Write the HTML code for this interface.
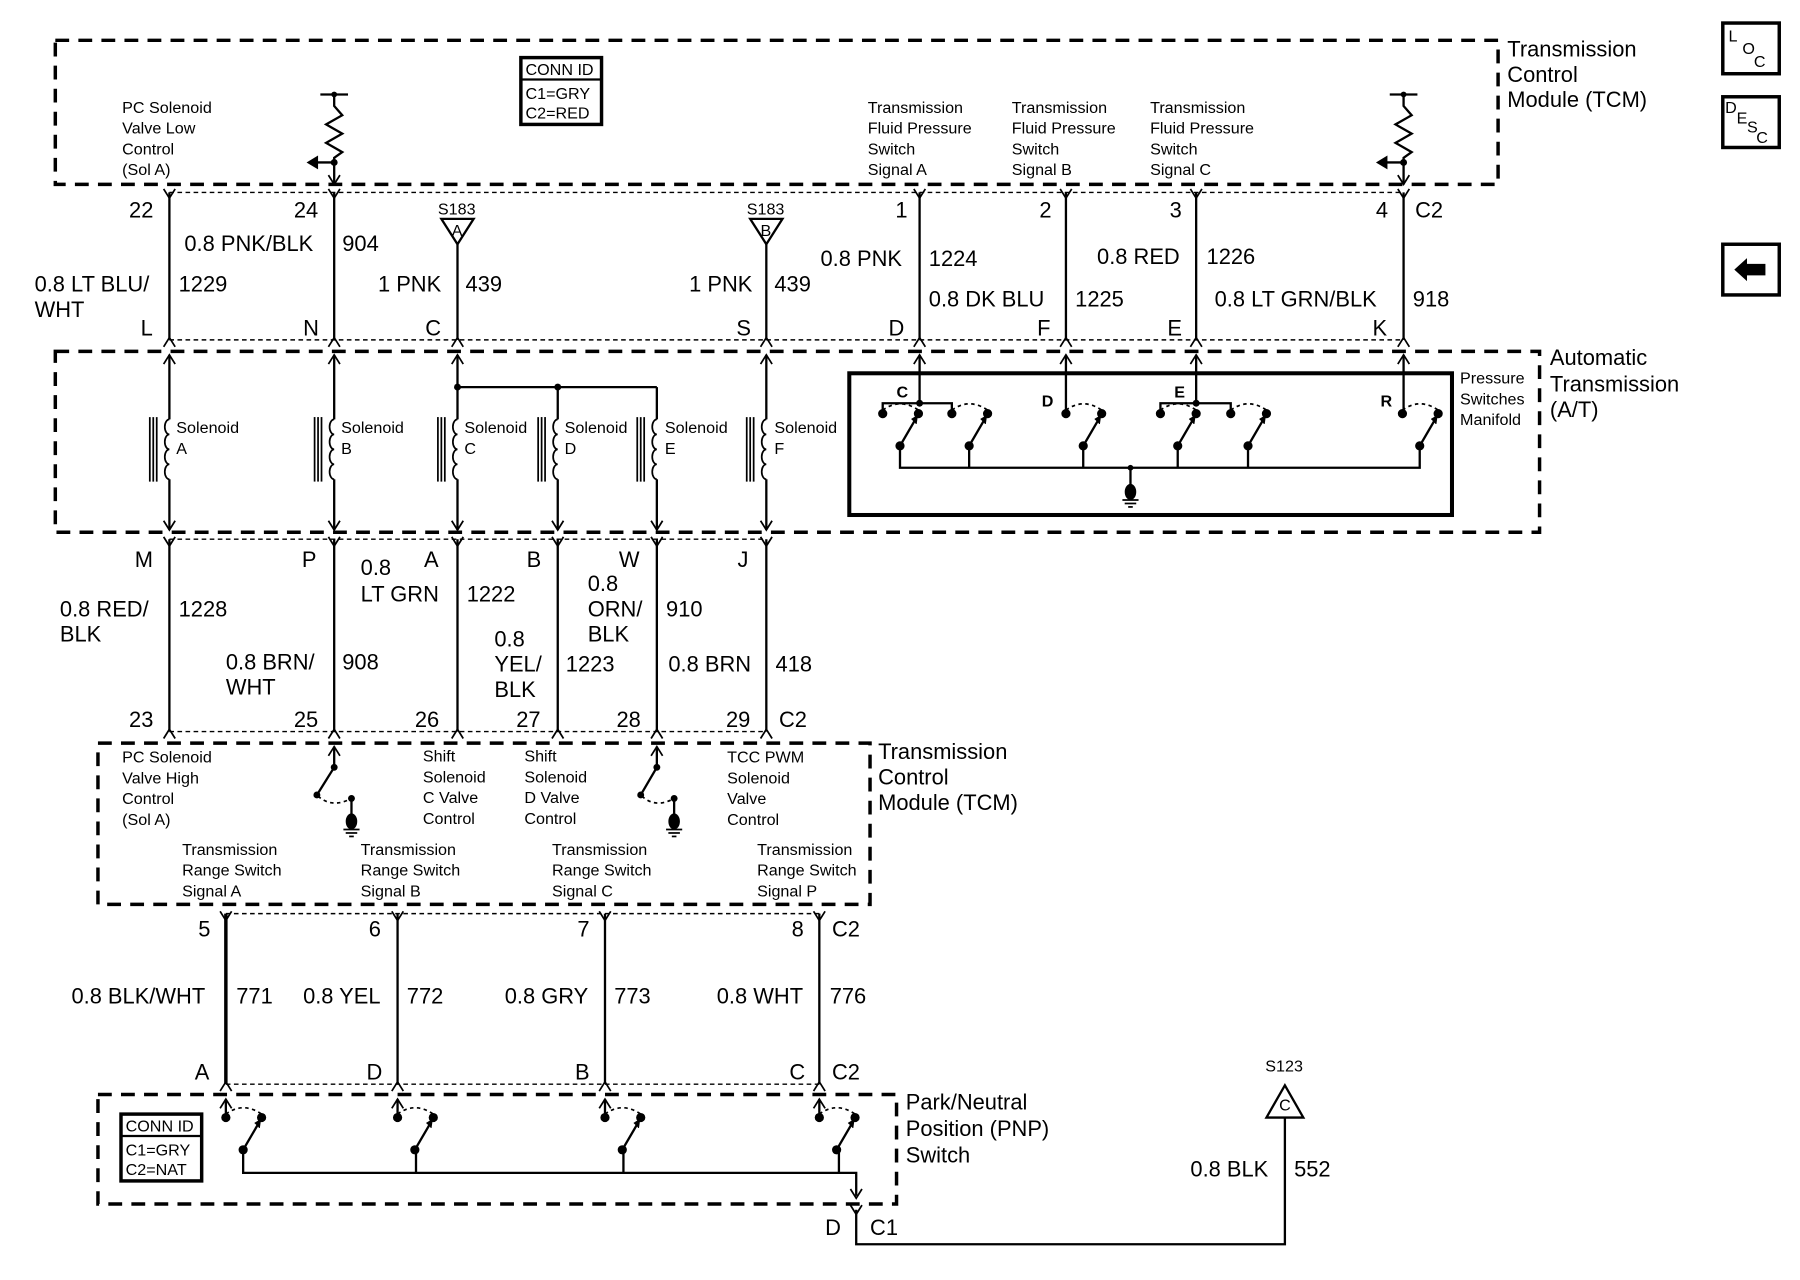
<!DOCTYPE html>
<html><head><meta charset="utf-8"><style>
html,body{margin:0;padding:0;background:#fff;}
svg{display:block;}
text{font-family:"Liberation Sans",sans-serif;fill:#000;}
.s{font-size:14px;}
.m{font-size:19px;}
.l{font-size:19px;}
</style></head><body>
<svg width="1800" height="1280" viewBox="0 0 1562 1111" preserveAspectRatio="none" xmlns="http://www.w3.org/2000/svg">
<defs>
<path id="fork" d="M-5,-6 L0,2 L5,-6" fill="none" stroke="#000" stroke-width="1.5"/>
<path id="chev" d="M-5,6 L0,-2 L5,6" fill="none" stroke="#000" stroke-width="1.5"/>
<path id="arrD" d="M-5,-8 L0,0 L5,-8" fill="none" stroke="#000" stroke-width="1.5"/>
<g id="gnd"><ellipse cx="0" cy="0" rx="5" ry="7" fill="#000"/><line x1="-7" y1="7" x2="7" y2="7" stroke="#000" stroke-width="1.5"/><line x1="-5" y1="10" x2="5" y2="10" stroke="#000" stroke-width="1.5"/><line x1="-2" y1="13" x2="2" y2="13" stroke="#000" stroke-width="1.5"/></g>
<g id="coil" fill="none" stroke="#000" stroke-width="1.5"><path d="M0,0 a4,6.5 0 0 0 0,13 a4,6.5 0 0 0 0,13 a4,6.5 0 0 0 0,13 a4,6.5 0 0 0 0,13"/><line x1="-17" y1="-2" x2="-17" y2="54"/><line x1="-14" y1="-2" x2="-14" y2="54"/><line x1="-11" y1="-2" x2="-11" y2="54"/></g>
<g id="sw" stroke="#000" stroke-width="2" fill="none"><circle cx="0" cy="0" r="3" fill="#000"/><circle cx="31" cy="0" r="3" fill="#000"/><path d="M0,-3 Q15,-14 31,-3" stroke-dasharray="3,3" stroke-width="1.5"/><circle cx="15" cy="28" r="3" fill="#000"/><line x1="15" y1="28" x2="29" y2="4"/><path d="M25,5 L30,2 L29,9" fill="#000" stroke-width="1"/></g>
</defs>

<g fill="none" stroke="#000" stroke-width="3" stroke-dasharray="12,8">
<rect x="48" y="35" width="1252" height="125"/>
<rect x="48" y="305" width="1288" height="157"/>
<rect x="85" y="645" width="670" height="140"/>
<rect x="85" y="950" width="693" height="95"/>
</g>
<g stroke="#000" stroke-width="1.2" stroke-dasharray="4,3">
<line x1="147" y1="167" x2="1218" y2="167"/><line x1="147" y1="295" x2="1218" y2="295"/>
<line x1="147" y1="468" x2="665" y2="468"/><line x1="147" y1="635" x2="665" y2="635"/>
<line x1="196" y1="793" x2="711" y2="793"/><line x1="196" y1="941" x2="711" y2="941"/>
</g>

<!-- top TCM -->
<rect x="452" y="50" width="70" height="58" fill="none" stroke="#000" stroke-width="3"/>
<line x1="452" y1="69" x2="522" y2="69" stroke="#000" stroke-width="2"/>
<text class="s" x="456" y="65">CONN ID</text><text class="s" x="456" y="86">C1=GRY</text><text class="s" x="456" y="103">C2=RED</text>
<text class="s" x="106" y="98">PC Solenoid</text><text class="s" x="106" y="116">Valve Low</text><text class="s" x="106" y="134">Control</text><text class="s" x="106" y="152">(Sol A)</text>
<text class="s" x="753" y="98">Transmission</text><text class="s" x="753" y="116">Fluid Pressure</text><text class="s" x="753" y="134">Switch</text><text class="s" x="753" y="152">Signal A</text>
<text class="s" x="878" y="98">Transmission</text><text class="s" x="878" y="116">Fluid Pressure</text><text class="s" x="878" y="134">Switch</text><text class="s" x="878" y="152">Signal B</text>
<text class="s" x="998" y="98">Transmission</text><text class="s" x="998" y="116">Fluid Pressure</text><text class="s" x="998" y="134">Switch</text><text class="s" x="998" y="152">Signal C</text>
<text class="l" x="1308" y="49">Transmission</text><text class="l" x="1308" y="71">Control</text><text class="l" x="1308" y="93">Module (TCM)</text>
<g stroke="#000" stroke-width="2" fill="none">
<path d="M278,82 H302 M290,82 V92 L297,100 L283,108 L297,116 L283,124 L297,132 L290,137 V160"/>
<path d="M1206,82 H1230 M1218,82 V92 L1225,100 L1211,108 L1225,116 L1211,124 L1225,132 L1218,137 V160"/>
<line x1="290" y1="141" x2="272" y2="141"/><line x1="1218" y1="141" x2="1200" y2="141"/>
</g>
<circle cx="290" cy="82" r="2.5"/><circle cx="290" cy="141" r="3"/><circle cx="1218" cy="82" r="2.5"/><circle cx="1218" cy="141" r="3"/>
<path d="M266,141 L276,135 L276,147 Z"/><path d="M1194,141 L1204,135 L1204,147 Z"/>
<use href="#arrD" x="290" y="160"/><use href="#arrD" x="1218" y="160"/>

<!-- LOC / DESC / back -->
<g fill="none" stroke="#000" stroke-width="3"><rect x="1495" y="20" width="49" height="44"/><rect x="1495" y="84" width="49" height="44"/><rect x="1495" y="212" width="49" height="44"/></g>
<text class="s" x="1500" y="36">L</text><text class="s" x="1512" y="47">O</text><text class="s" x="1522" y="58">C</text>
<text class="s" x="1497" y="98">D</text><text class="s" x="1507" y="107">E</text><text class="s" x="1516" y="115">S</text><text class="s" x="1524" y="124">C</text>
<path d="M1505,234 L1516,224 L1516,229 L1532,229 L1532,239 L1516,239 L1516,244 Z"/>

<!-- top harness -->
<g stroke="#000" stroke-width="2">
<line x1="147" y1="167" x2="147" y2="295"/><line x1="290" y1="167" x2="290" y2="295"/>
<line x1="397" y1="212" x2="397" y2="295"/><line x1="665" y1="212" x2="665" y2="295"/>
<line x1="798" y1="167" x2="798" y2="295"/><line x1="925" y1="167" x2="925" y2="295"/>
<line x1="1038" y1="167" x2="1038" y2="295"/><line x1="1218" y1="167" x2="1218" y2="295"/>
</g>
<use href="#fork" x="147" y="170"/><use href="#fork" x="290" y="170"/><use href="#fork" x="798" y="170"/><use href="#fork" x="925" y="170"/><use href="#fork" x="1038" y="170"/><use href="#fork" x="1218" y="170"/>
<use href="#chev" x="147" y="295"/><use href="#chev" x="290" y="295"/><use href="#chev" x="397" y="295"/><use href="#chev" x="665" y="295"/><use href="#chev" x="798" y="295"/><use href="#chev" x="925" y="295"/><use href="#chev" x="1038" y="295"/><use href="#chev" x="1218" y="295"/>
<g fill="none" stroke="#000" stroke-width="2"><path d="M383,190 H411 L397,212 Z"/><path d="M651,190 H679 L665,212 Z"/></g>
<text class="s" x="380" y="186">S183</text><text class="s" x="392" y="205">A</text>
<text class="s" x="648" y="186">S183</text><text class="s" x="660" y="205">B</text>
<text class="m" x="112" y="189">22</text><text class="m" x="255" y="189">24</text><text class="m" x="777" y="189">1</text><text class="m" x="902" y="189">2</text><text class="m" x="1015" y="189">3</text><text class="m" x="1194" y="189">4</text><text class="m" x="1228" y="189">C2</text>
<text class="m" x="160" y="218">0.8 PNK/BLK</text><text class="m" x="297" y="218">904</text>
<text class="m" x="30" y="253">0.8 LT BLU/</text><text class="m" x="30" y="275">WHT</text><text class="m" x="155" y="253">1229</text>
<text class="m" x="328" y="253">1 PNK</text><text class="m" x="404" y="253">439</text>
<text class="m" x="598" y="253">1 PNK</text><text class="m" x="672" y="253">439</text>
<text class="m" x="712" y="231">0.8 PNK</text><text class="m" x="806" y="231">1224</text>
<text class="m" x="806" y="266">0.8 DK BLU</text><text class="m" x="933" y="266">1225</text>
<text class="m" x="952" y="229">0.8 RED</text><text class="m" x="1047" y="229">1226</text>
<text class="m" x="1054" y="266">0.8 LT GRN/BLK</text><text class="m" x="1226" y="266">918</text>
<text class="m" x="122" y="291">L</text><text class="m" x="263" y="291">N</text><text class="m" x="369" y="291">C</text><text class="m" x="639" y="291">S</text><text class="m" x="771" y="291">D</text><text class="m" x="900" y="291">F</text><text class="m" x="1013" y="291">E</text><text class="m" x="1191" y="291">K</text>

<!-- A/T -->
<text class="l" x="1345" y="317">Automatic</text><text class="l" x="1345" y="340">Transmission</text><text class="l" x="1345" y="362">(A/T)</text>
<g stroke="#000" stroke-width="2" fill="none">
<line x1="147" y1="308" x2="147" y2="364"/><line x1="147" y1="416" x2="147" y2="460"/>
<line x1="290" y1="308" x2="290" y2="364"/><line x1="290" y1="416" x2="290" y2="460"/>
<line x1="397" y1="308" x2="397" y2="364"/><line x1="397" y1="416" x2="397" y2="460"/>
<line x1="484" y1="336" x2="484" y2="364"/><line x1="484" y1="416" x2="484" y2="460"/>
<line x1="570" y1="336" x2="570" y2="364"/><line x1="570" y1="416" x2="570" y2="460"/>
<line x1="665" y1="308" x2="665" y2="364"/><line x1="665" y1="416" x2="665" y2="460"/>
<line x1="397" y1="336" x2="570" y2="336"/>
</g>
<circle cx="397" cy="336" r="3"/><circle cx="484" cy="336" r="3"/>
<use href="#chev" x="147" y="310"/><use href="#chev" x="290" y="310"/><use href="#chev" x="397" y="310"/><use href="#chev" x="665" y="310"/><use href="#chev" x="798" y="310"/><use href="#chev" x="925" y="310"/><use href="#chev" x="1038" y="310"/><use href="#chev" x="1218" y="310"/>
<use href="#arrD" x="147" y="460"/><use href="#arrD" x="290" y="460"/><use href="#arrD" x="397" y="460"/><use href="#arrD" x="484" y="460"/><use href="#arrD" x="570" y="460"/><use href="#arrD" x="665" y="460"/>
<use href="#coil" x="147" y="364"/><use href="#coil" x="290" y="364"/><use href="#coil" x="397" y="364"/><use href="#coil" x="484" y="364"/><use href="#coil" x="570" y="364"/><use href="#coil" x="665" y="364"/>
<text class="s" x="153" y="376">Solenoid</text><text class="s" x="153" y="394">A</text>
<text class="s" x="296" y="376">Solenoid</text><text class="s" x="296" y="394">B</text>
<text class="s" x="403" y="376">Solenoid</text><text class="s" x="403" y="394">C</text>
<text class="s" x="490" y="376">Solenoid</text><text class="s" x="490" y="394">D</text>
<text class="s" x="577" y="376">Solenoid</text><text class="s" x="577" y="394">E</text>
<text class="s" x="672" y="376">Solenoid</text><text class="s" x="672" y="394">F</text>
<!-- manifold -->
<rect x="737" y="324" width="523" height="123" fill="none" stroke="#000" stroke-width="3.5"/>
<text class="s" x="1267" y="333">Pressure</text><text class="s" x="1267" y="351">Switches</text><text class="s" x="1267" y="369">Manifold</text>
<g stroke="#000" stroke-width="2" fill="none">
<line x1="798" y1="308" x2="798" y2="350"/><line x1="925" y1="308" x2="925" y2="359"/><line x1="1038" y1="308" x2="1038" y2="350"/><line x1="1218" y1="308" x2="1218" y2="359"/>
<path d="M766,359 V350 H826 V359"/><path d="M1007,359 V350 H1068 V359"/>
<path d="M781,387 V406 H1232 V387"/>
<line x1="841" y1="387" x2="841" y2="406"/><line x1="940" y1="387" x2="940" y2="406"/><line x1="1022" y1="387" x2="1022" y2="406"/><line x1="1083" y1="387" x2="1083" y2="406"/>
<line x1="981" y1="406" x2="981" y2="422"/>
</g>
<circle cx="798" cy="350" r="3"/><circle cx="1038" cy="350" r="3"/><circle cx="981" cy="406" r="2.5"/>
<use href="#gnd" x="981" y="427"/>
<use href="#sw" x="766" y="359"/><use href="#sw" x="826" y="359"/><use href="#sw" x="925" y="359"/><use href="#sw" x="1007" y="359"/><use href="#sw" x="1068" y="359"/><use href="#sw" x="1217" y="359"/>
<text class="s" x="778" y="345" font-weight="bold">C</text><text class="s" x="904" y="353" font-weight="bold">D</text><text class="s" x="1019" y="345" font-weight="bold">E</text><text class="s" x="1198" y="353" font-weight="bold">R</text>

<!-- middle harness -->
<g stroke="#000" stroke-width="2">
<line x1="147" y1="468" x2="147" y2="635"/><line x1="290" y1="468" x2="290" y2="635"/><line x1="397" y1="468" x2="397" y2="635"/><line x1="484" y1="468" x2="484" y2="635"/><line x1="570" y1="468" x2="570" y2="635"/><line x1="665" y1="468" x2="665" y2="635"/>
</g>
<use href="#fork" x="147" y="472"/><use href="#fork" x="290" y="472"/><use href="#fork" x="397" y="472"/><use href="#fork" x="484" y="472"/><use href="#fork" x="570" y="472"/><use href="#fork" x="665" y="472"/>
<use href="#chev" x="147" y="635"/><use href="#chev" x="290" y="635"/><use href="#chev" x="397" y="635"/><use href="#chev" x="484" y="635"/><use href="#chev" x="570" y="635"/><use href="#chev" x="665" y="635"/>
<text class="m" x="117" y="492">M</text><text class="m" x="262" y="492">P</text><text class="m" x="368" y="492">A</text><text class="m" x="457" y="492">B</text><text class="m" x="537" y="492">W</text><text class="m" x="640" y="492">J</text>
<text class="m" x="52" y="535">0.8 RED/</text><text class="m" x="52" y="557">BLK</text><text class="m" x="155" y="535">1228</text>
<text class="m" x="196" y="581">0.8 BRN/</text><text class="m" x="196" y="603">WHT</text><text class="m" x="297" y="581">908</text>
<text class="m" x="313" y="499">0.8</text><text class="m" x="313" y="522">LT GRN</text><text class="m" x="405" y="522">1222</text>
<text class="m" x="429" y="561">0.8</text><text class="m" x="429" y="583">YEL/</text><text class="m" x="429" y="605">BLK</text><text class="m" x="491" y="583">1223</text>
<text class="m" x="510" y="513">0.8</text><text class="m" x="510" y="535">ORN/</text><text class="m" x="510" y="557">BLK</text><text class="m" x="578" y="535">910</text>
<text class="m" x="580" y="583">0.8 BRN</text><text class="m" x="673" y="583">418</text>
<text class="m" x="112" y="631">23</text><text class="m" x="255" y="631">25</text><text class="m" x="360" y="631">26</text><text class="m" x="448" y="631">27</text><text class="m" x="535" y="631">28</text><text class="m" x="630" y="631">29</text><text class="m" x="676" y="631">C2</text>

<!-- lower TCM -->
<text class="l" x="762" y="659">Transmission</text><text class="l" x="762" y="681">Control</text><text class="l" x="762" y="703">Module (TCM)</text>
<text class="s" x="106" y="662">PC Solenoid</text><text class="s" x="106" y="680">Valve High</text><text class="s" x="106" y="698">Control</text><text class="s" x="106" y="716">(Sol A)</text>
<text class="s" x="367" y="661">Shift</text><text class="s" x="367" y="679">Solenoid</text><text class="s" x="367" y="697">C Valve</text><text class="s" x="367" y="715">Control</text>
<text class="s" x="455" y="661">Shift</text><text class="s" x="455" y="679">Solenoid</text><text class="s" x="455" y="697">D Valve</text><text class="s" x="455" y="715">Control</text>
<text class="s" x="631" y="662">TCC PWM</text><text class="s" x="631" y="680">Solenoid</text><text class="s" x="631" y="698">Valve</text><text class="s" x="631" y="716">Control</text>
<text class="s" x="158" y="742">Transmission</text><text class="s" x="158" y="760">Range Switch</text><text class="s" x="158" y="778">Signal A</text>
<text class="s" x="313" y="742">Transmission</text><text class="s" x="313" y="760">Range Switch</text><text class="s" x="313" y="778">Signal B</text>
<text class="s" x="479" y="742">Transmission</text><text class="s" x="479" y="760">Range Switch</text><text class="s" x="479" y="778">Signal C</text>
<text class="s" x="657" y="742">Transmission</text><text class="s" x="657" y="760">Range Switch</text><text class="s" x="657" y="778">Signal P</text>
<g stroke="#000" stroke-width="2" fill="none">
<line x1="290" y1="648" x2="290" y2="666"/><line x1="290" y1="666" x2="275" y2="690"/><path d="M276,691 Q288,702 305,693" stroke-dasharray="3,3" stroke-width="1.5"/><line x1="305" y1="693" x2="305" y2="708"/>
<line x1="570" y1="648" x2="570" y2="666"/><line x1="570" y1="666" x2="556" y2="690"/><path d="M557,691 Q569,702 585,693" stroke-dasharray="3,3" stroke-width="1.5"/><line x1="585" y1="693" x2="585" y2="708"/>
</g>
<use href="#chev" x="290" y="650"/><use href="#chev" x="570" y="650"/>
<circle cx="290" cy="666" r="3"/><circle cx="275" cy="690" r="3"/><circle cx="305" cy="693" r="3"/>
<circle cx="570" cy="666" r="3"/><circle cx="556" cy="690" r="3"/><circle cx="585" cy="693" r="3"/>
<use href="#gnd" x="305" y="713"/><use href="#gnd" x="585" y="713"/>

<!-- lower harness -->
<g stroke="#000" stroke-width="2">
<line x1="196" y1="793" x2="196" y2="941" stroke-width="3"/><line x1="345" y1="793" x2="345" y2="941"/><line x1="525" y1="793" x2="525" y2="941"/><line x1="711" y1="793" x2="711" y2="941"/>
</g>
<use href="#fork" x="196" y="797"/><use href="#fork" x="345" y="797"/><use href="#fork" x="525" y="797"/><use href="#fork" x="711" y="797"/>
<use href="#chev" x="196" y="941"/><use href="#chev" x="345" y="941"/><use href="#chev" x="525" y="941"/><use href="#chev" x="711" y="941"/>
<text class="m" x="172" y="813">5</text><text class="m" x="320" y="813">6</text><text class="m" x="501" y="813">7</text><text class="m" x="687" y="813">8</text><text class="m" x="722" y="813">C2</text>
<text class="m" x="62" y="871">0.8 BLK/WHT</text><text class="m" x="205" y="871">771</text>
<text class="m" x="263" y="871">0.8 YEL</text><text class="m" x="353" y="871">772</text>
<text class="m" x="438" y="871">0.8 GRY</text><text class="m" x="533" y="871">773</text>
<text class="m" x="622" y="871">0.8 WHT</text><text class="m" x="720" y="871">776</text>
<text class="m" x="169" y="937">A</text><text class="m" x="318" y="937">D</text><text class="m" x="499" y="937">B</text><text class="m" x="685" y="937">C</text><text class="m" x="722" y="937">C2</text>

<!-- PNP -->
<text class="l" x="786" y="963">Park/Neutral</text><text class="l" x="786" y="986">Position (PNP)</text><text class="l" x="786" y="1009">Switch</text>
<rect x="105" y="967" width="70" height="58" fill="none" stroke="#000" stroke-width="3"/>
<line x1="105" y1="986" x2="175" y2="986" stroke="#000" stroke-width="2"/>
<text class="s" x="109" y="982">CONN ID</text><text class="s" x="109" y="1003">C1=GRY</text><text class="s" x="109" y="1020">C2=NAT</text>
<g stroke="#000" stroke-width="2" fill="none">
<line x1="196" y1="954" x2="196" y2="970"/><line x1="345" y1="954" x2="345" y2="970"/><line x1="525" y1="954" x2="525" y2="970"/><line x1="711" y1="954" x2="711" y2="970"/>
<path d="M211,998 V1018 H743 V1038"/>
<line x1="361" y1="998" x2="361" y2="1018"/><line x1="541" y1="998" x2="541" y2="1018"/><line x1="728" y1="998" x2="728" y2="1018"/>
<path d="M743,1050 V1080 H1115 V970"/>
</g>
<use href="#chev" x="196" y="956"/><use href="#chev" x="345" y="956"/><use href="#chev" x="525" y="956"/><use href="#chev" x="711" y="956"/>
<use href="#sw" x="196" y="970"/><use href="#sw" x="345" y="970"/><use href="#sw" x="525" y="970"/><use href="#sw" x="711" y="970"/>
<use href="#arrD" x="743" y="1040"/><use href="#fork" x="743" y="1052"/>
<text class="m" x="716" y="1072">D</text><text class="m" x="755" y="1072">C1</text>
<path d="M1099,942 H1131 L1115,970 Z" transform="rotate(180 1115 956)" fill="none" stroke="#000" stroke-width="2"/>
<text class="s" x="1098" y="930">S123</text><text class="s" x="1110" y="964">C</text>
<text class="m" x="1033" y="1021">0.8 BLK</text><text class="m" x="1123" y="1021">552</text>
</svg>
</body></html>
